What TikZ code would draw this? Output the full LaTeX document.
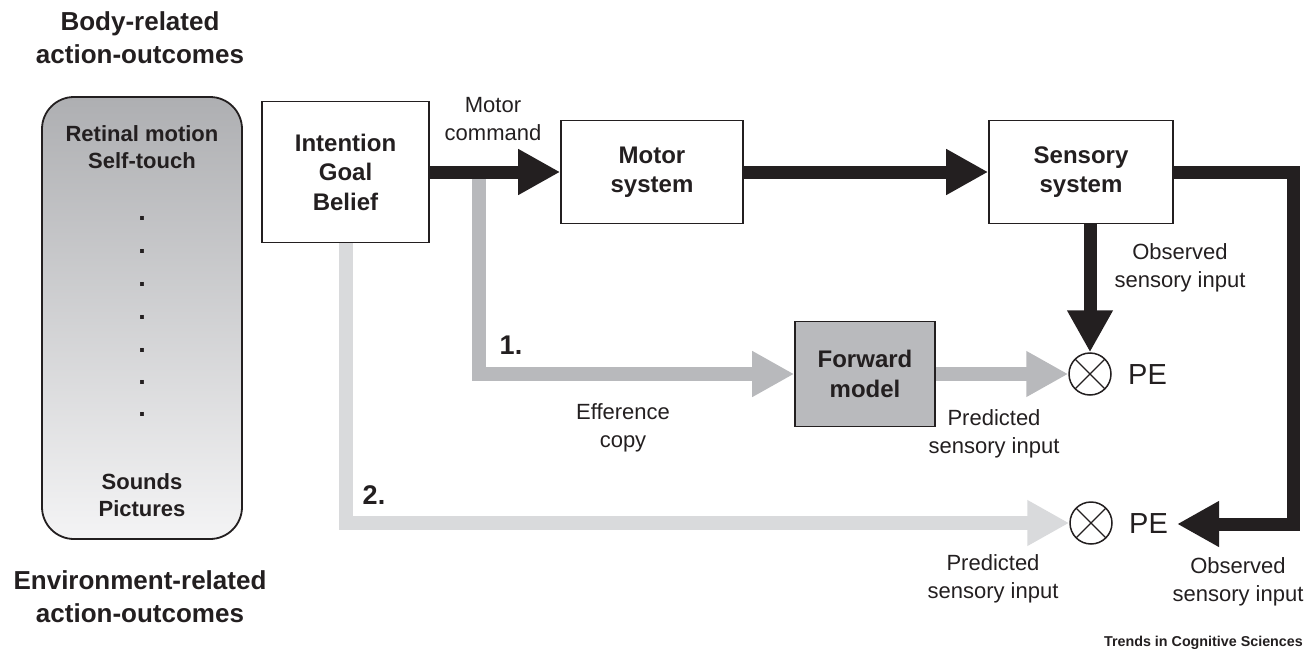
\documentclass[tikz,border=0pt]{standalone}
\usepackage{fontspec}
\usepackage{graphicx}
\setmainfont{Liberation Sans}
\usetikzlibrary{arrows.meta}
\definecolor{ink}{HTML}{231F20}
\definecolor{effgray}{HTML}{B8B9BC}
\definecolor{lightpath}{HTML}{D9DADC}
\definecolor{fmfill}{HTML}{B9BABD}
\definecolor{gradtop}{HTML}{AEAFB2}
\definecolor{gradbot}{HTML}{F4F4F5}
\tikzset{
  box/.style={draw=ink, line width=1.6pt, fill=white, align=center, text=ink,
    font=\bfseries\fontsize{24}{29.5}\selectfont, inner sep=0pt},
  lbl/.style={align=center, text=ink, font=\fontsize{22}{28}\selectfont, inner sep=0pt},
  boldlbl/.style={align=center, text=ink, font=\bfseries\fontsize{22}{27}\selectfont, inner sep=0pt},
  title/.style={align=center, text=ink, font=\bfseries\fontsize{26}{33}\selectfont, inner sep=0pt},
  numlbl/.style={text=ink, font=\bfseries\fontsize{27}{30}\selectfont, inner sep=0pt},
  pelbl/.style={text=ink, font=\fontsize{29}{32}\selectfont, inner sep=0pt},
  dotmark/.style={text=ink, font=\bfseries\fontsize{27}{30}\selectfont, inner sep=0pt},
  comparator/.style={circle, draw=ink, line width=1.5pt, fill=white, minimum size=42pt,
    inner sep=0pt, path picture={
      \draw[ink, line width=1.2pt]
        (path picture bounding box.south west) -- (path picture bounding box.north east)
        (path picture bounding box.north west) -- (path picture bounding box.south east);}},
  tiphead/.style={-{Triangle[length=42pt,width=43pt]}},
  blk/.style={draw=ink, line width=13pt, line join=miter, tiphead},
  effline/.style={draw=effgray, line width=14pt, line join=miter, tiphead},
  predline/.style={draw=lightpath, line width=14pt, line join=miter, tiphead},
}
\begin{document}
\begin{tikzpicture}[x=1pt, y=-1pt]
\useasboundingbox (0,0) rectangle (1315,653);

% outcome column
\node[title] (bodyt) at (140,38) {Body-related\\action-outcomes};
\node[title] (envt) at (140,597) {Environment-related\\action-outcomes};
\node[draw=ink, line width=1.8pt, rounded corners=32pt, top color=gradtop, bottom color=gradbot,
      minimum width=200pt, minimum height=442pt, inner sep=0pt] (out) at (142,318) {};
\node[boldlbl] (ret) at (142,147) {Retinal motion\\Self-touch};
\node[boldlbl] (snd) at (142,495) {Sounds\\Pictures};
\foreach \yy [count=\i] in {218,251,284,317,350,382,414}
  \node[dotmark] (dot\i) at (142,\yy) {.};

% processing boxes
\node[box, minimum width=167pt, minimum height=141pt] (int) at (345.5,172) {Intention\\Goal\\Belief};
\node[box, minimum width=182pt, minimum height=103pt] (mot) at (652,172) {Motor\\system};
\node[box, minimum width=184pt, minimum height=103pt] (sens) at (1081,172) {Sensory\\system};
\node[box, fill=fmfill, minimum width=140pt, minimum height=105pt] (fm) at (865,374) {Forward\\model};

% comparators
\node[comparator] (pe1) at (1090,374) {};
\node[comparator] (pe2) at (1091,523) {};
\node[pelbl, anchor=west] (pe1l) at (1128,375) {PE};
\node[pelbl, anchor=west] (pe2l) at (1129,524) {PE};

% connectors
\coordinate (split) at (479,172);
\draw[effline] (split) |- (fm.west);
\draw[effline] (fm.east) -- (pe1.west);
\draw[predline] (int.south) |- (pe2.west);
\draw[blk] (int.east) -- (mot.west);
\draw[blk] (mot.east) -- (sens.west);
\draw[blk] (sens.south -| pe1) -- (pe1.north);
\draw[blk] (sens.east) -- ++(120,0) |- ([xshift=9pt]pe2l.east);

% labels
\node[lbl] (mc) at (493,119) {Motor\\command};
\node[lbl] (obs1) at (1180,268) {Observed\\sensory input};
\node[lbl] (eff) at (623,428) {Efference\\copy};
\node[lbl] (pred1) at (994,434) {Predicted\\sensory input};
\node[lbl] (pred2) at (993,579) {Predicted\\sensory input};
\node[lbl] (obs2) at (1238,582) {Observed\\sensory input};
\node[numlbl] (n1) at (511,345) {1.};
\node[numlbl] (n2) at (374,495) {2.};
\node[text=ink, font=\bfseries\fontsize{14.3}{16}\selectfont, inner sep=0pt, anchor=east] (src) at (1303,643) {Trends in Cognitive Sciences};
\end{tikzpicture}
\end{document}
